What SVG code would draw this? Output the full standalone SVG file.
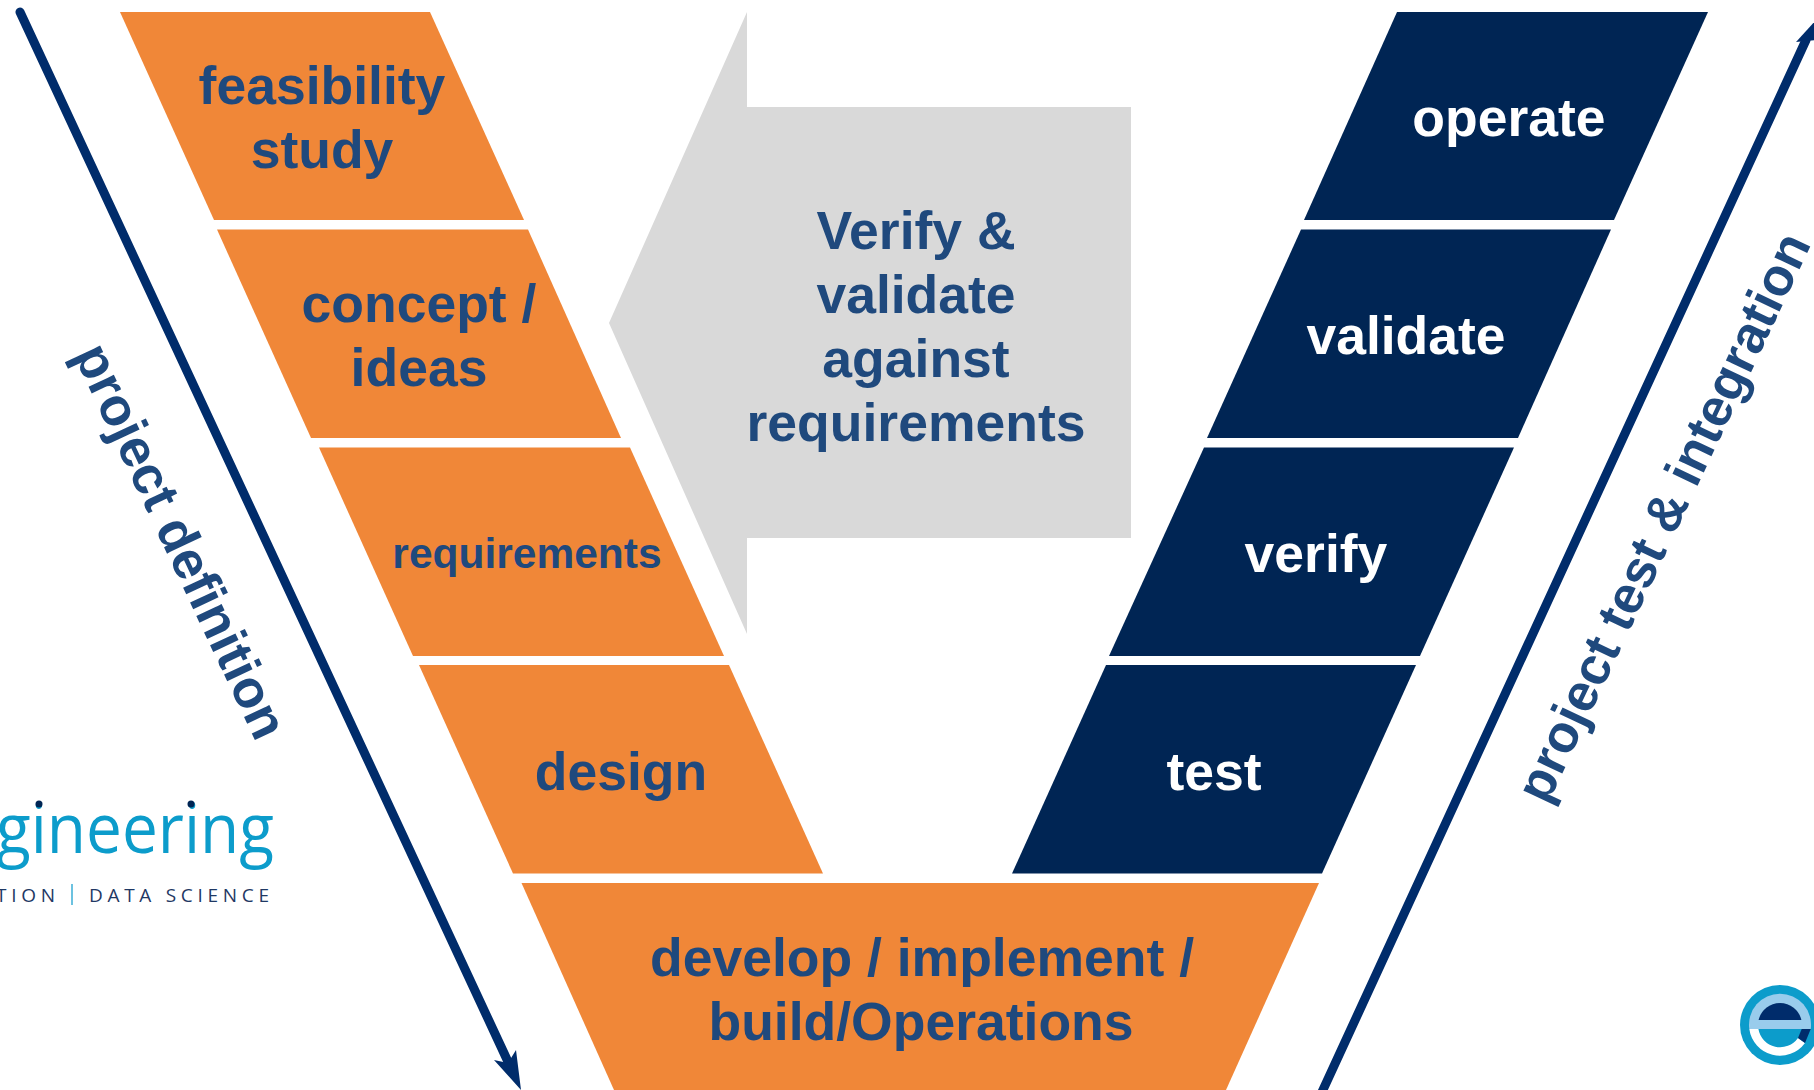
<svg xmlns="http://www.w3.org/2000/svg" width="1814" height="1090" viewBox="0 0 1814 1090">
<style>
.o{fill:#f08738}.n{fill:#002554}
.t{font-family:"Liberation Sans",Arial,sans-serif;font-weight:700;font-size:53.5px;text-anchor:middle;fill:#1f497d}
.w{fill:#fff}
.ln{stroke:#002c6b;stroke-width:9;fill:none;stroke-linecap:round}
.hd{fill:#002c6b}
.lg{font-family:"Open Sans",sans-serif;font-size:19px;letter-spacing:4.7px;fill:#1f3864}
</style>
<rect width="1814" height="1090" fill="#fff"/>
<g id="connectors">
<path class="ln" d="M20 12L510 1066"/>
<path class="hd" d="M521 1090L494 1060L508 1063L516 1050Z"/>
<path class="ln" d="M1322 1092L1806 40" stroke-linecap="butt"/>
<path class="hd" d="M1816 20V40L1796 42Z"/>
</g>
<g id="verify-arrow"><path fill="#d9d9d9" d="M609 323L747 12V107H1131V538H747V634Z"/>
<text class="t" x="916" y="248.500">Verify &amp;</text><text class="t" x="916" y="312.500">validate</text><text class="t" x="916" y="376.500">against</text><text class="t" x="916" y="440.500">requirements</text></g>
<g id="feasibility"><path class="o" d="M120 12H430L524 220H214Z"/><text class="t" x="322" y="104">feasibility</text><text class="t" x="322" y="168">study</text></g>
<g id="concept"><path class="o" d="M217 229.500H528L621 438H311Z"/><text class="t" x="419" y="322">concept /</text><text class="t" x="419" y="386">ideas</text></g>
<g id="requirements"><path class="o" d="M319 447.500H630L724 656H413Z"/><text class="t" x="527" y="568" style="font-size:42.500px">requirements</text></g>
<g id="design"><path class="o" d="M419 665H729L823 873.500H513Z"/><text class="t" x="621" y="790">design</text></g>
<g id="develop"><path class="o" d="M521.500 883H1319L1226 1090H614Z"/><text class="t" x="922" y="976">develop / implement /</text><text class="t" x="921" y="1040">build/Operations</text></g>
<g id="operate"><path class="n" d="M1397 12H1708L1614 220H1304Z"/><text class="t w" x="1509" y="136">operate</text></g>
<g id="validate"><path class="n" d="M1301 229.500H1611L1518 438H1207Z"/><text class="t w" x="1406" y="354">validate</text></g>
<g id="verify"><path class="n" d="M1204 447.500H1514L1420 656H1109Z"/><text class="t w" x="1316" y="572">verify</text></g>
<g id="test"><path class="n" d="M1106 665H1416L1322 873.500H1012Z"/><text class="t w" x="1214" y="790">test</text></g>
<g id="label-definition"><text class="t" transform="translate(181 541) rotate(64.8)" y="18" style="font-size:53px">project definition</text></g>
<g id="label-integration"><text class="t" transform="translate(1663 517) rotate(-64.8)" y="18" style="font-size:52.500px">project test &amp; integration</text></g>
<g id="logo-text">
<text x="-4" y="853" textLength="278" lengthAdjust="spacingAndGlyphs" style="font-family:'Open Sans',sans-serif;font-size:70px;fill:#0c9ccb">gineering</text>
<circle cx="39" cy="804" r="3.500" fill="#002554"/><circle cx="191" cy="804" r="3.500" fill="#002554"/>
<text class="lg" x="-4" y="902">TION</text>
<rect x="71" y="884" width="2" height="21" fill="#6cc2e0"/>
<text class="lg" x="89" y="902">DATA SCIENCE</text>
</g>
<g id="logo-mark">
<circle cx="1780" cy="1025" r="40" fill="#0c9ccb"/>
<path d="M1749.300 1029A31 31 0 1 1 1810.700 1029Z" fill="#99ccec"/>
<path d="M1758.600 1020A22 22 0 0 1 1801.400 1020Z" fill="#002c6b"/>
<path d="M1749.300 1029H1758.400A22 22 0 0 0 1798 1038L1805 1043A31 31 0 0 1 1749.300 1029Z" fill="#fff"/>
<path d="M1801.700 1029H1810.700L1805 1043L1798 1038Z" fill="#002c6b"/>
</g>
</svg>
